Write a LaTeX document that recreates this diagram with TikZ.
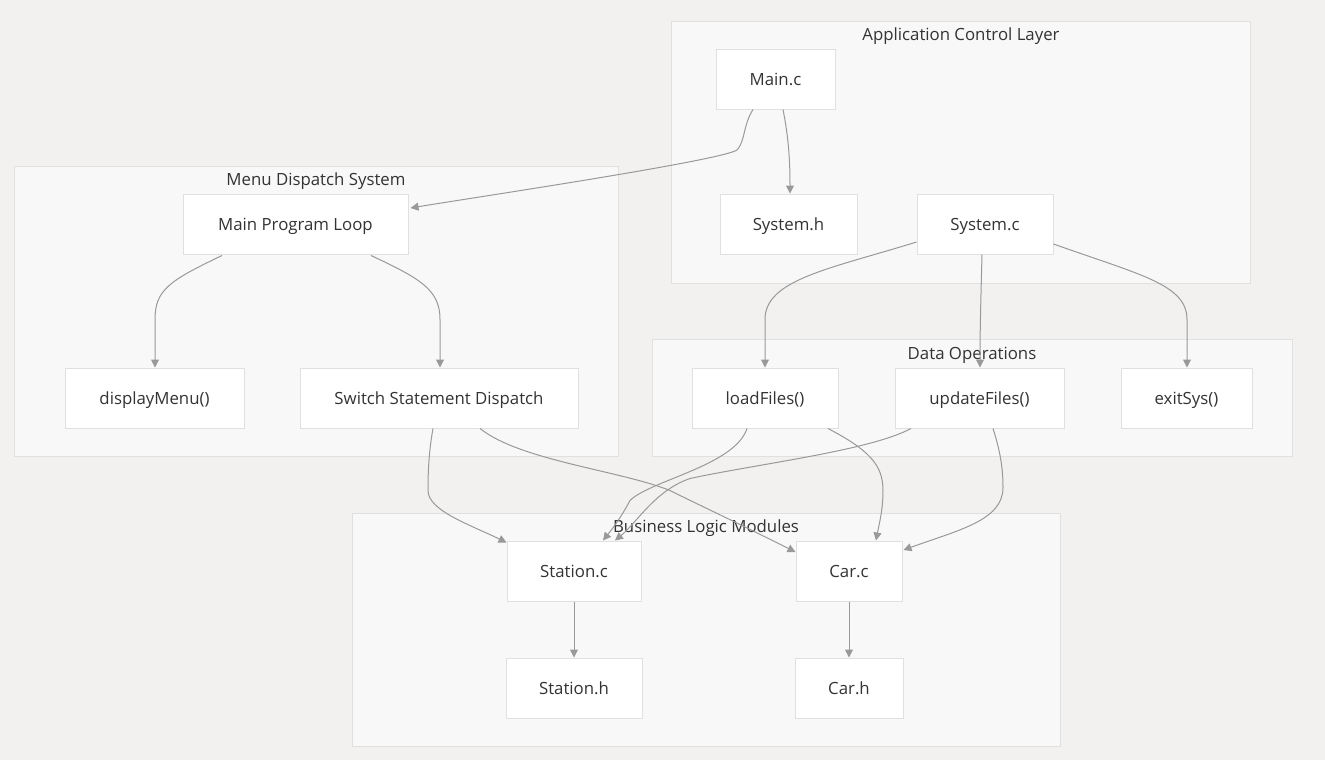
\documentclass[tikz,border=0pt]{standalone}
\usepackage{fontspec}
\setmainfont{Open Sans}
\usetikzlibrary{calc,arrows.meta}
\definecolor{bgc}{RGB}{242,241,240}
\definecolor{clfill}{RGB}{248,248,248}
\definecolor{clline}{RGB}{224,224,224}
\definecolor{edgec}{RGB}{153,153,153}
\definecolor{txt}{RGB}{51,51,51}
\begin{document}
\begin{tikzpicture}[x=0.75pt,y=-0.75pt,
  cluster/.style={fill=clfill,draw=clline,line width=0.75pt},
  ctitle/.style={text=txt,font=\fontsize{12.6pt}{14pt}\selectfont,inner sep=0pt},
  box/.style={fill=white,draw=clline,line width=0.75pt,minimum height=45pt,text=txt,font=\fontsize{12.6pt}{14pt}\selectfont,inner sep=0pt,text height=1.1em,text depth=0.15em},
  edge/.style={draw=edgec,line width=0.75pt,-{Triangle[length=6pt,width=6pt]}}]
\path[fill=bgc,use as bounding box] (0,0) rectangle (1325,760);
% clusters
\draw[cluster] (671,21) rectangle (1250,283);
\draw[cluster] (14,166) rectangle (618,456);
\draw[cluster] (652,339) rectangle (1292,456);
\draw[cluster] (352,513) rectangle (1060,746);
\node[ctitle] (t1) at (961,36) {Application Control Layer};
\node[ctitle] (t2) at (316,181) {Menu Dispatch System};
\node[ctitle] (t3) at (972,355) {Data Operations};
\node[ctitle] (t4) at (706,528) {Business Logic Modules};
% nodes
\node[box,minimum width=89.25pt] (mainc) at (775.5,79) {Main.c};
\node[box,minimum width=102.75pt] (sysh) at (788.5,224) {System.h};
\node[box,minimum width=102pt] (sysc) at (985,224) {System.c};
\node[box,minimum width=168.75pt] (mpl) at (295.5,224) {Main Program Loop};
\node[box,minimum width=134.25pt] (dm) at (154.5,398) {displayMenu()};
\node[box,minimum width=208.5pt] (ssd) at (439,398) {Switch Statement Dispatch};
\node[box,minimum width=109.5pt] (lf) at (765,398) {loadFiles()};
\node[box,minimum width=126.75pt] (uf) at (979.5,398) {updateFiles()};
\node[box,minimum width=98.25pt] (es) at (1186.5,398) {exitSys()};
\node[box,minimum width=100.5pt] (stc) at (574,571) {Station.c};
\node[box,minimum width=79.5pt] (carc) at (849,571) {Car.c};
\node[box,minimum width=102pt] (sth) at (574,688) {Station.h};
\node[box,minimum width=81pt] (carh) at (849,688) {Car.h};
% edges
\draw[edge] ($(mainc.south)+(-22.5,0)$) .. controls +(-10,16) and +(8,-10) .. ($(mainc.south)+(-38,40)$) .. controls +(-8,10) and +(60,-10) .. ($(mpl.east)+(2,-16)$);
\draw[edge] ($(mainc.south)+(7.5,0)$) .. controls +(6,30) and +(0,-30) .. ($(sysh.north)+(1.5,0)$);
\draw[edge] ($(sysc.west)+(0,18)$) .. controls +(-87,27) and +(0,-40) .. ($(lf.north)+(0,-48)$) -- (lf.north);
\draw[edge] ($(sysc.south)+(-3,0)$) .. controls +(-1,40) and +(0,-40) .. ($(uf.north)+(0.5,0)$);
\draw[edge] ($(sysc.east)+(0,20)$) .. controls +(87,31) and +(0,-35) .. ($(es.north)+(0.5,-48)$) -- ($(es.north)+(0.5,0)$);
\draw[edge] ($(mpl.south)+(-73.5,1)$) .. controls +(-52,25) and +(0,-30) .. ($(dm.north)+(0.5,-48)$) -- ($(dm.north)+(0.5,0)$);
\draw[edge] ($(mpl.south)+(75.5,1)$) .. controls +(49,23) and +(0,-30) .. ($(ssd.north)+(1,-48)$) -- ($(ssd.north)+(1,0)$);
\draw[edge] ($(ssd.south)+(-6,0)$) .. controls +(-4,22) and +(0,-20) .. ($(ssd.south)+(-11,62)$) .. controls +(0,20) and +(-37,-18) .. ($(stc.north west)+(0,2)$);
\draw[edge] ($(ssd.south)+(41,0)$) .. controls +(40,32) and +(-50,-20) .. ($(ssd.south)+(231,62)$) .. controls +(30,15) and +(-70,-35) .. ($(carc.west)+(0,-19)$);
\draw[edge] ($(lf.south)+(-18,0)$) .. controls +(-12,37) and +(20,-20) .. ($(lf.south)+(-135,72)$) .. controls +(-8,15) and +(12,-15) .. ($(stc.north)+(29,0)$);
\draw[edge] ($(lf.south)+(63,0)$) .. controls +(42,22) and +(0,-25) .. ($(lf.south)+(118,62)$) .. controls +(0,20) and +(3,-16) .. ($(carc.north)+(27,0)$);
\draw[edge] ($(uf.south)+(-68.5,0)$) .. controls +(-41,22) and +(70,-15) .. ($(uf.south)+(-289.5,50)$) .. controls +(-35,12) and +(22,-18) .. ($(stc.north)+(41,0)$);
\draw[edge] ($(uf.south)+(13.5,0)$) .. controls +(7,22) and +(0,-20) .. ($(uf.south)+(23.5,59)$) .. controls +(0,33) and +(55,-20) .. ($(carc.east)+(1,-21)$);
\draw[edge] (stc) -- (sth);
\draw[edge] (carc) -- (carh);
\end{tikzpicture}
\end{document}
